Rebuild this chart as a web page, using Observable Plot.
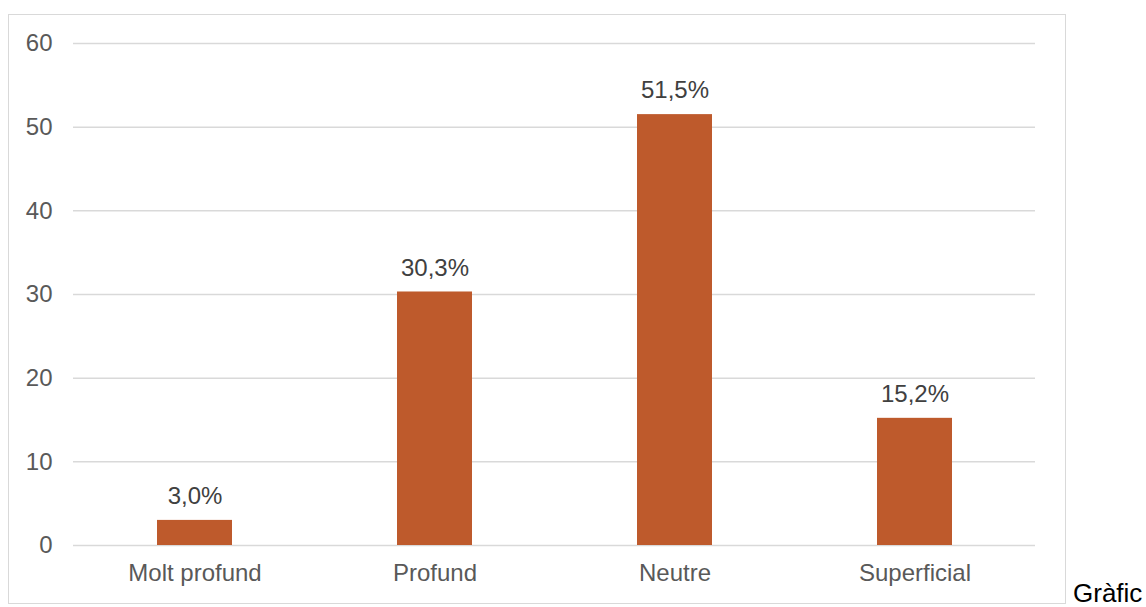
<!DOCTYPE html>
<html>
<head>
<meta charset="utf-8">
<script src="https://cdn.jsdelivr.net/npm/d3@7"></script>
<script src="https://cdn.jsdelivr.net/npm/@observablehq/plot@0.6"></script>
<style>
  html, body { margin: 0; padding: 0; background: #fff; }
  body { width: 1146px; height: 607px; position: relative; overflow: hidden; font-family: "Liberation Sans", Arial, sans-serif; }
  #box { position: absolute; left: 8px; top: 14px; width: 1058px; height: 590px; box-sizing: border-box; border: 1.5px solid #d9d9d9; }
  #box svg { position: absolute; left: 0; top: 0; }
  #caption { position: absolute; left: 1073px; top: 580px; font-size: 26px; color: #000; white-space: nowrap; line-height: 1; }
</style>
</head>
<body>
<div id="box"></div>
<div id="caption">Gràfic</div>
<script>
const categories = ["Molt profund", "Profund", "Neutre", "Superficial"];
const values = [3.0, 30.3, 51.5, 15.2];
const labels = ["3,0%", "30,3%", "51,5%", "15,2%"];
const yTicks = [0, 10, 20, 30, 40, 50, 60];

const data = categories.map((c, i) => ({category: c, value: values[i], label: labels[i]}));

const chart = Plot.plot({
  width: 1056,
  height: 588,
  marginLeft: 64,
  marginRight: 30,
  marginTop: 28,
  marginBottom: 58,
  style: {fontFamily: "'Liberation Sans', Arial, sans-serif", fontSize: "24px", color: "#595959", background: "transparent"},
  x: {domain: categories, paddingInner: 0.688, paddingOuter: 0.344, label: null},
  y: {domain: [0, 60], label: null},
  marks: [
    Plot.ruleY(yTicks, {stroke: "#d9d9d9", strokeWidth: 1.5}),
    Plot.barY(data, {x: "category", y: "value", fill: "#be5a2c"}),
    Plot.text(data, {x: "category", y: "value", text: "label", dy: -24, fill: "#404040", fontSize: 24}),
    Plot.axisY({ticks: yTicks, tickSize: 0, tickPadding: 21, fontSize: 24, fill: "#595959", label: null}),
    Plot.axisX({tickSize: 0, tickPadding: 18, fontSize: 24, fill: "#595959", label: null})
  ]
});
document.getElementById("box").appendChild(chart);
</script>
</body>
</html>
